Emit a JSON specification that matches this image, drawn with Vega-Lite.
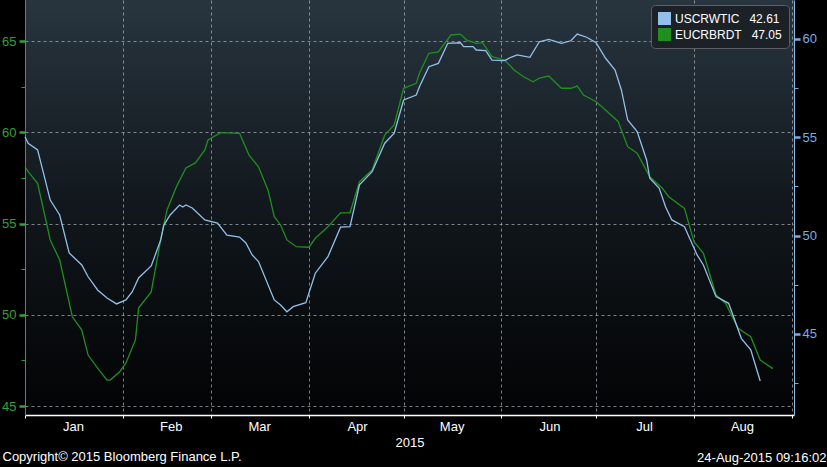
{
  "$schema": "https://vega.github.io/schema/vega-lite/v6.json",
  "width": 769,
  "height": 415,
  "autosize": {"type": "none"},
  "padding": {"left": 25, "top": 0, "right": 33, "bottom": 52},
  "background": "#000000",
  "data": {
    "values": [
      {"series": "USCRWTIC", "date": "2015-01-01", "price": 55.03},
      {"series": "USCRWTIC", "date": "2015-01-02", "price": 54.70},
      {"series": "USCRWTIC", "date": "2015-01-05", "price": 54.36},
      {"series": "USCRWTIC", "date": "2015-01-09", "price": 51.81},
      {"series": "USCRWTIC", "date": "2015-01-12", "price": 51.05},
      {"series": "USCRWTIC", "date": "2015-01-15", "price": 49.12},
      {"series": "USCRWTIC", "date": "2015-01-19", "price": 48.51},
      {"series": "USCRWTIC", "date": "2015-01-21", "price": 47.91},
      {"series": "USCRWTIC", "date": "2015-01-24", "price": 47.24},
      {"series": "USCRWTIC", "date": "2015-01-27", "price": 46.83},
      {"series": "USCRWTIC", "date": "2015-01-30", "price": 46.53},
      {"series": "USCRWTIC", "date": "2015-02-02", "price": 46.73},
      {"series": "USCRWTIC", "date": "2015-02-04", "price": 47.15},
      {"series": "USCRWTIC", "date": "2015-02-06", "price": 47.85},
      {"series": "USCRWTIC", "date": "2015-02-10", "price": 48.46},
      {"series": "USCRWTIC", "date": "2015-02-13", "price": 49.78},
      {"series": "USCRWTIC", "date": "2015-02-14", "price": 50.54},
      {"series": "USCRWTIC", "date": "2015-02-16", "price": 51.05},
      {"series": "USCRWTIC", "date": "2015-02-19", "price": 51.56},
      {"series": "USCRWTIC", "date": "2015-02-20", "price": 51.46},
      {"series": "USCRWTIC", "date": "2015-02-21", "price": 51.56},
      {"series": "USCRWTIC", "date": "2015-02-23", "price": 51.41},
      {"series": "USCRWTIC", "date": "2015-02-27", "price": 50.80},
      {"series": "USCRWTIC", "date": "2015-03-03", "price": 50.64},
      {"series": "USCRWTIC", "date": "2015-03-06", "price": 50.03},
      {"series": "USCRWTIC", "date": "2015-03-10", "price": 49.93},
      {"series": "USCRWTIC", "date": "2015-03-12", "price": 49.63},
      {"series": "USCRWTIC", "date": "2015-03-14", "price": 49.02},
      {"series": "USCRWTIC", "date": "2015-03-16", "price": 48.68},
      {"series": "USCRWTIC", "date": "2015-03-21", "price": 46.73},
      {"series": "USCRWTIC", "date": "2015-03-23", "price": 46.47},
      {"series": "USCRWTIC", "date": "2015-03-25", "price": 46.13},
      {"series": "USCRWTIC", "date": "2015-03-27", "price": 46.39},
      {"series": "USCRWTIC", "date": "2015-03-31", "price": 46.59},
      {"series": "USCRWTIC", "date": "2015-04-03", "price": 48.09},
      {"series": "USCRWTIC", "date": "2015-04-07", "price": 48.93},
      {"series": "USCRWTIC", "date": "2015-04-11", "price": 50.43},
      {"series": "USCRWTIC", "date": "2015-04-14", "price": 50.46},
      {"series": "USCRWTIC", "date": "2015-04-17", "price": 52.58},
      {"series": "USCRWTIC", "date": "2015-04-21", "price": 53.25},
      {"series": "USCRWTIC", "date": "2015-04-25", "price": 54.70},
      {"series": "USCRWTIC", "date": "2015-04-28", "price": 55.21},
      {"series": "USCRWTIC", "date": "2015-05-01", "price": 56.90},
      {"series": "USCRWTIC", "date": "2015-05-05", "price": 57.15},
      {"series": "USCRWTIC", "date": "2015-05-06", "price": 57.57},
      {"series": "USCRWTIC", "date": "2015-05-09", "price": 58.59},
      {"series": "USCRWTIC", "date": "2015-05-12", "price": 58.76},
      {"series": "USCRWTIC", "date": "2015-05-15", "price": 59.78},
      {"series": "USCRWTIC", "date": "2015-05-19", "price": 59.81},
      {"series": "USCRWTIC", "date": "2015-05-20", "price": 59.61},
      {"series": "USCRWTIC", "date": "2015-05-23", "price": 59.61},
      {"series": "USCRWTIC", "date": "2015-05-24", "price": 59.44},
      {"series": "USCRWTIC", "date": "2015-05-27", "price": 59.41},
      {"series": "USCRWTIC", "date": "2015-05-29", "price": 58.93},
      {"series": "USCRWTIC", "date": "2015-06-02", "price": 58.90},
      {"series": "USCRWTIC", "date": "2015-06-04", "price": 59.07},
      {"series": "USCRWTIC", "date": "2015-06-06", "price": 59.19},
      {"series": "USCRWTIC", "date": "2015-06-10", "price": 59.07},
      {"series": "USCRWTIC", "date": "2015-06-13", "price": 59.86},
      {"series": "USCRWTIC", "date": "2015-06-16", "price": 59.98},
      {"series": "USCRWTIC", "date": "2015-06-20", "price": 59.78},
      {"series": "USCRWTIC", "date": "2015-06-23", "price": 59.91},
      {"series": "USCRWTIC", "date": "2015-06-25", "price": 60.25},
      {"series": "USCRWTIC", "date": "2015-06-28", "price": 60.09},
      {"series": "USCRWTIC", "date": "2015-07-01", "price": 59.81},
      {"series": "USCRWTIC", "date": "2015-07-04", "price": 59.02},
      {"series": "USCRWTIC", "date": "2015-07-07", "price": 58.42},
      {"series": "USCRWTIC", "date": "2015-07-09", "price": 57.41},
      {"series": "USCRWTIC", "date": "2015-07-11", "price": 55.88},
      {"series": "USCRWTIC", "date": "2015-07-14", "price": 55.29},
      {"series": "USCRWTIC", "date": "2015-07-17", "price": 53.85},
      {"series": "USCRWTIC", "date": "2015-07-18", "price": 52.92},
      {"series": "USCRWTIC", "date": "2015-07-21", "price": 52.41},
      {"series": "USCRWTIC", "date": "2015-07-23", "price": 51.47},
      {"series": "USCRWTIC", "date": "2015-07-25", "price": 50.80},
      {"series": "USCRWTIC", "date": "2015-07-29", "price": 50.46},
      {"series": "USCRWTIC", "date": "2015-08-02", "price": 49.02},
      {"series": "USCRWTIC", "date": "2015-08-04", "price": 48.51},
      {"series": "USCRWTIC", "date": "2015-08-08", "price": 46.90},
      {"series": "USCRWTIC", "date": "2015-08-12", "price": 46.56},
      {"series": "USCRWTIC", "date": "2015-08-16", "price": 44.78},
      {"series": "USCRWTIC", "date": "2015-08-19", "price": 44.19},
      {"series": "USCRWTIC", "date": "2015-08-22", "price": 42.61},
      {"series": "EUCRBRDT", "date": "2015-01-01", "price": 58.11},
      {"series": "EUCRBRDT", "date": "2015-01-02", "price": 57.84},
      {"series": "EUCRBRDT", "date": "2015-01-05", "price": 57.20},
      {"series": "EUCRBRDT", "date": "2015-01-09", "price": 54.10},
      {"series": "EUCRBRDT", "date": "2015-01-12", "price": 53.00},
      {"series": "EUCRBRDT", "date": "2015-01-16", "price": 49.89},
      {"series": "EUCRBRDT", "date": "2015-01-19", "price": 49.16},
      {"series": "EUCRBRDT", "date": "2015-01-21", "price": 47.79},
      {"series": "EUCRBRDT", "date": "2015-01-24", "price": 47.08},
      {"series": "EUCRBRDT", "date": "2015-01-27", "price": 46.42},
      {"series": "EUCRBRDT", "date": "2015-01-28", "price": 46.42},
      {"series": "EUCRBRDT", "date": "2015-01-31", "price": 46.88},
      {"series": "EUCRBRDT", "date": "2015-02-02", "price": 47.36},
      {"series": "EUCRBRDT", "date": "2015-02-05", "price": 48.62},
      {"series": "EUCRBRDT", "date": "2015-02-06", "price": 50.37},
      {"series": "EUCRBRDT", "date": "2015-02-10", "price": 51.25},
      {"series": "EUCRBRDT", "date": "2015-02-13", "price": 54.10},
      {"series": "EUCRBRDT", "date": "2015-02-15", "price": 55.74},
      {"series": "EUCRBRDT", "date": "2015-02-18", "price": 57.02},
      {"series": "EUCRBRDT", "date": "2015-02-21", "price": 58.04},
      {"series": "EUCRBRDT", "date": "2015-02-24", "price": 58.32},
      {"series": "EUCRBRDT", "date": "2015-02-27", "price": 59.03},
      {"series": "EUCRBRDT", "date": "2015-02-28", "price": 59.58},
      {"series": "EUCRBRDT", "date": "2015-03-04", "price": 59.98},
      {"series": "EUCRBRDT", "date": "2015-03-10", "price": 59.94},
      {"series": "EUCRBRDT", "date": "2015-03-13", "price": 58.75},
      {"series": "EUCRBRDT", "date": "2015-03-16", "price": 58.11},
      {"series": "EUCRBRDT", "date": "2015-03-19", "price": 56.84},
      {"series": "EUCRBRDT", "date": "2015-03-21", "price": 55.37},
      {"series": "EUCRBRDT", "date": "2015-03-23", "price": 54.92},
      {"series": "EUCRBRDT", "date": "2015-03-25", "price": 54.10},
      {"series": "EUCRBRDT", "date": "2015-03-28", "price": 53.73},
      {"series": "EUCRBRDT", "date": "2015-04-01", "price": 53.70},
      {"series": "EUCRBRDT", "date": "2015-04-03", "price": 54.19},
      {"series": "EUCRBRDT", "date": "2015-04-07", "price": 54.82},
      {"series": "EUCRBRDT", "date": "2015-04-11", "price": 55.58},
      {"series": "EUCRBRDT", "date": "2015-04-14", "price": 55.59},
      {"series": "EUCRBRDT", "date": "2015-04-17", "price": 57.29},
      {"series": "EUCRBRDT", "date": "2015-04-21", "price": 57.93},
      {"series": "EUCRBRDT", "date": "2015-04-25", "price": 59.85},
      {"series": "EUCRBRDT", "date": "2015-04-28", "price": 60.40},
      {"series": "EUCRBRDT", "date": "2015-05-01", "price": 62.41},
      {"series": "EUCRBRDT", "date": "2015-05-05", "price": 62.68},
      {"series": "EUCRBRDT", "date": "2015-05-06", "price": 63.23},
      {"series": "EUCRBRDT", "date": "2015-05-09", "price": 64.33},
      {"series": "EUCRBRDT", "date": "2015-05-12", "price": 64.41},
      {"series": "EUCRBRDT", "date": "2015-05-16", "price": 65.33},
      {"series": "EUCRBRDT", "date": "2015-05-19", "price": 65.38},
      {"series": "EUCRBRDT", "date": "2015-05-21", "price": 65.05},
      {"series": "EUCRBRDT", "date": "2015-05-24", "price": 64.87},
      {"series": "EUCRBRDT", "date": "2015-05-26", "price": 64.91},
      {"series": "EUCRBRDT", "date": "2015-05-29", "price": 64.14},
      {"series": "EUCRBRDT", "date": "2015-06-02", "price": 63.96},
      {"series": "EUCRBRDT", "date": "2015-06-05", "price": 63.41},
      {"series": "EUCRBRDT", "date": "2015-06-08", "price": 63.04},
      {"series": "EUCRBRDT", "date": "2015-06-11", "price": 62.77},
      {"series": "EUCRBRDT", "date": "2015-06-13", "price": 62.96},
      {"series": "EUCRBRDT", "date": "2015-06-16", "price": 63.08},
      {"series": "EUCRBRDT", "date": "2015-06-20", "price": 62.41},
      {"series": "EUCRBRDT", "date": "2015-06-23", "price": 62.41},
      {"series": "EUCRBRDT", "date": "2015-06-25", "price": 62.53},
      {"series": "EUCRBRDT", "date": "2015-06-27", "price": 62.04},
      {"series": "EUCRBRDT", "date": "2015-07-01", "price": 61.67},
      {"series": "EUCRBRDT", "date": "2015-07-04", "price": 61.22},
      {"series": "EUCRBRDT", "date": "2015-07-08", "price": 60.58},
      {"series": "EUCRBRDT", "date": "2015-07-11", "price": 59.21},
      {"series": "EUCRBRDT", "date": "2015-07-14", "price": 58.85},
      {"series": "EUCRBRDT", "date": "2015-07-18", "price": 57.56},
      {"series": "EUCRBRDT", "date": "2015-07-22", "price": 56.93},
      {"series": "EUCRBRDT", "date": "2015-07-24", "price": 56.47},
      {"series": "EUCRBRDT", "date": "2015-07-29", "price": 55.83},
      {"series": "EUCRBRDT", "date": "2015-08-01", "price": 54.00},
      {"series": "EUCRBRDT", "date": "2015-08-04", "price": 53.37},
      {"series": "EUCRBRDT", "date": "2015-08-08", "price": 51.08},
      {"series": "EUCRBRDT", "date": "2015-08-11", "price": 50.63},
      {"series": "EUCRBRDT", "date": "2015-08-15", "price": 49.26},
      {"series": "EUCRBRDT", "date": "2015-08-19", "price": 48.80},
      {"series": "EUCRBRDT", "date": "2015-08-22", "price": 47.52},
      {"series": "EUCRBRDT", "date": "2015-08-26", "price": 47.05}
    ]
  },
  "layer": [
    {
      "transform": [{"filter": "datum.series == 'EUCRBRDT'"}],
      "mark": {"type": "line", "strokeWidth": 1.3},
      "encoding": {
        "x": {
          "field": "date",
          "type": "temporal",
          "scale": {
            "type": "utc",
            "domain": [
              {"year": 2015, "month": 1, "date": 1, "utc": true},
              {"year": 2015, "month": 9, "date": 1, "hours": 17, "utc": true}
            ]
          },
          "axis": {
            "values": [
              {"year": 2015, "month": 1, "date": 1, "utc": true},
              {"year": 2015, "month": 2, "date": 1, "utc": true},
              {"year": 2015, "month": 3, "date": 1, "utc": true},
              {"year": 2015, "month": 4, "date": 1, "utc": true},
              {"year": 2015, "month": 5, "date": 1, "utc": true},
              {"year": 2015, "month": 6, "date": 1, "utc": true},
              {"year": 2015, "month": 7, "date": 1, "utc": true},
              {"year": 2015, "month": 8, "date": 1, "utc": true},
              {"year": 2015, "month": 9, "date": 1, "utc": true}
            ],
            "labelExpr": "utcmonth(datum.value) == 8 ? '' : utcFormat(datum.value, '%b')",
            "labelOffset": 48,
            "labelAlign": "center",
            "labelBaseline": "alphabetic",
            "labelPadding": 12,
            "labelFlush": false,
            "labelColor": "#ffffff",
            "tickColor": "#ffffff",
            "tickSize": 3,
            "domainColor": "#ffffff",
            "domainWidth": 1.5,
            "grid": true,
            "gridColor": "#b8bec4",
            "gridDash": [3, 3],
            "gridOpacity": 0.65,
            "title": "2015",
            "titleColor": "#ffffff",
            "titleBaseline": "alphabetic",
            "titleY": 31
          }
        },
        "y": {
          "field": "price",
          "type": "quantitative",
          "scale": {"domain": [44.507, 67.247], "nice": false, "zero": false},
          "axis": {
            "orient": "left",
            "values": [45, 47.5, 50, 52.5, 55, 57.5, 60, 62.5, 65],
            "labelExpr": "datum.value % 5 === 0 ? datum.label : ''",
            "labelColor": "#35a035",
            "tickColor": "#35a035",
            "domainColor": "#35a035",
            "tickSize": {"condition": {"test": "datum.value % 5 === 0", "value": 6}, "value": 4},
            "tickWidth": {"condition": {"test": "datum.value % 5 === 0", "value": 2.5}, "value": 1},
            "labelPadding": 3,
            "grid": true,
            "gridColor": "#b8bec4",
            "gridDash": [3, 3],
            "gridOpacity": {"condition": {"test": "datum.value % 5 === 0", "value": 0.65}, "value": 0},
            "title": "Copyright\u00a9 2015 Bloomberg Finance L.P.",
            "titleAngle": 0,
            "titleAlign": "left",
            "titleBaseline": "alphabetic",
            "titleX": -23,
            "titleY": 460,
            "titleColor": "#ffffff"
          }
        },
        "color": {
          "field": "series",
          "type": "nominal",
          "scale": {"domain": ["USCRWTIC", "EUCRBRDT"], "range": ["#93c0ea", "#1f8f1f"]},
          "legend": {
            "orient": "top-right",
            "offset": 5,
            "title": null,
            "fillColor": "#1b2127",
            "strokeColor": "#5a5f64",
            "cornerRadius": 4,
            "padding": 7,
            "symbolType": "square",
            "symbolSize": 42,
            "symbolStrokeWidth": 6.5,
            "clipHeight": 13,
            "labelColor": "#ffffff",
            "labelFont": "Liberation Sans",
            "labelFontSize": 12,
            "labelOffset": 4,
            "rowPadding": 3,
            "labelLimit": 0,
            "labelExpr": "datum.label == 'USCRWTIC' ? 'USCRWTIC\u00a0\u00a0\u00a042.61' : 'EUCRBRDT\u00a0\u00a0\u00a047.05'"
          }
        }
      }
    },
    {
      "transform": [{"filter": "datum.series == 'USCRWTIC'"}],
      "mark": {"type": "line", "strokeWidth": 1.3},
      "encoding": {
        "x": {"field": "date", "type": "temporal"},
        "y": {
          "field": "price",
          "type": "quantitative",
          "scale": {"domain": [40.881, 61.983], "nice": false, "zero": false},
          "axis": {
            "orient": "right",
            "values": [42.5, 45, 47.5, 50, 52.5, 55, 57.5, 60],
            "labelExpr": "datum.value % 5 === 0 ? datum.label : ''",
            "labelColor": "#78aee0",
            "tickColor": "#78aee0",
            "domainColor": "#8ebae6",
            "tickSize": {"condition": {"test": "datum.value % 5 === 0", "value": 6}, "value": 4},
            "tickWidth": {"condition": {"test": "datum.value % 5 === 0", "value": 2.5}, "value": 1},
            "labelPadding": 2,
            "grid": false,
            "title": "24-Aug-2015 09:16:02",
            "titleAngle": 0,
            "titleAlign": "right",
            "titleBaseline": "alphabetic",
            "titleX": 32,
            "titleY": 461,
            "titleColor": "#ffffff"
          }
        },
        "color": {"field": "series", "type": "nominal"}
      }
    }
  ],
  "resolve": {"scale": {"y": "independent"}},
  "config": {
    "view": {
      "stroke": null,
      "fill": {
        "gradient": "linear",
        "x1": 0, "y1": 0, "x2": 0, "y2": 1,
        "stops": [
          {"offset": 0, "color": "#28353f"},
          {"offset": 0.5, "color": "#11171c"},
          {"offset": 1, "color": "#020304"}
        ]
      }
    },
    "axis": {
      "labelFont": "Liberation Sans",
      "labelFontSize": 13,
      "titleFont": "Liberation Sans",
      "titleFontSize": 13,
      "titleFontWeight": "normal"
    }
  }
}
